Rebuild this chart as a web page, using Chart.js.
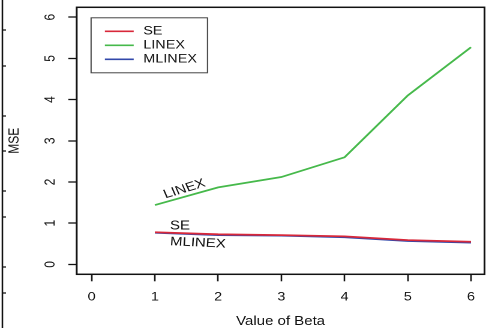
<!DOCTYPE html>
<html>
<head>
<meta charset="utf-8">
<script src="https://cdn.jsdelivr.net/npm/chart.js@4/dist/chart.umd.min.js"></script>
<style>
  html, body { margin: 0; padding: 0; background: #fff; overflow: hidden; }
  #wrap { width: 406px; height: 328px; transform: scaleX(1.2); transform-origin: 0 0; }
  canvas { display: block; }
</style>
</head>
<body>
<div id="wrap"><canvas id="mse" width="406" height="328"></canvas></div>
<script>
// Mean squared error of the three estimators against Beta
const betaValues = [1, 2, 3, 4, 5, 6];
const seMSE     = [0.78, 0.73, 0.71, 0.68, 0.59, 0.55];
const linexMSE  = [1.44, 1.87, 2.12, 2.60, 4.10, 5.27];
const mlinexMSE = [0.77, 0.71, 0.70, 0.66, 0.57, 0.53];
const seriesNames = ['SE', 'LINEX', 'MLINEX'];
const xTickValues = [0, 1, 2, 3, 4, 5, 6];
const yTickValues = [0, 1, 2, 3, 4, 5, 6];

const FONT = 'Liberation Sans, Arial, Helvetica, sans-serif';
const INK = '#111111';
const colors = ['#d8283a', '#46b94b', '#3248aa'];

const toPoints = ys => betaValues.map((b, i) => ({ x: b, y: ys[i] }));

// in-plot curve labels, placed in data units
const curveLabels = [
  { text: 'LINEX',  x: 1.468, y: 1.83, angle: -20 },
  { text: 'SE',     x: 1.397, y: 0.93, angle: 0 },
  { text: 'MLINEX', x: 1.68,  y: 0.52, angle: 3 }
];

const plotFrame = {
  id: 'plotFrame',
  afterDraw(chart) {
    const { ctx, chartArea: a } = chart;
    ctx.save();
    ctx.strokeStyle = INK;
    ctx.lineWidth = 1.5;
    ctx.strokeRect(a.left, a.top, a.right - a.left, a.bottom - a.top);
    // edge of the neighbouring panel
    ctx.lineWidth = 1.3;
    ctx.beginPath();
    ctx.moveTo(2, 0); ctx.lineTo(2, chart.height);
    [30, 66, 116, 151, 191, 217, 267, 293].forEach(t => { ctx.moveTo(2, t); ctx.lineTo(5, t); });
    ctx.stroke();
    ctx.restore();
  }
};

const boxLegend = {
  id: 'boxLegend',
  afterDraw(chart) {
    const { ctx, chartArea: a } = chart;
    const left = a.left + 12, top = a.top + 10.5, w = 97, h = 55;
    ctx.save();
    ctx.strokeStyle = '#444';
    ctx.lineWidth = 1;
    ctx.strokeRect(left, top, w, h);
    ctx.font = '12px ' + FONT;
    ctx.textBaseline = 'middle';
    ctx.fillStyle = INK;
    chart.data.datasets.forEach((ds, i) => {
      const y = top + 13.5 + i * 14;
      ctx.strokeStyle = ds.borderColor;
      ctx.lineWidth = 1.6;
      ctx.beginPath();
      ctx.moveTo(left + 11.5, y); ctx.lineTo(left + 35.5, y);
      ctx.stroke();
      ctx.fillText(ds.label, left + 43.5, y);
    });
    ctx.restore();
  }
};

const curveText = {
  id: 'curveText',
  afterDatasetsDraw(chart) {
    const { ctx, scales: { x, y } } = chart;
    ctx.save();
    ctx.font = '12.5px ' + FONT;
    ctx.fillStyle = INK;
    ctx.textAlign = 'center';
    ctx.textBaseline = 'middle';
    curveLabels.forEach(l => {
      ctx.save();
      ctx.translate(x.getPixelForValue(l.x), y.getPixelForValue(l.y));
      ctx.rotate(l.angle * Math.PI / 180);
      ctx.fillText(l.text, 0, 0);
      ctx.restore();
    });
    ctx.restore();
  }
};

new Chart(document.getElementById('mse'), {
  type: 'line',
  data: {
    datasets: [seMSE, linexMSE, mlinexMSE].map((ys, i) => ({
      label: seriesNames[i],
      data: toPoints(ys),
      borderColor: colors[i],
      backgroundColor: colors[i],
      borderWidth: 1.8,
      pointRadius: 0,
      tension: 0,
      fill: false
    }))
  },
  options: {
    responsive: false,
    animation: false,
    devicePixelRatio: 2,
    layout: { padding: { left: 0, right: 2.25, top: 7.3, bottom: 0 } },
    plugins: { legend: { display: false }, tooltip: { enabled: false } },
    scales: {
      x: {
        type: 'linear',
        min: -0.237,
        max: 6.214,
        afterBuildTicks: s => { s.ticks = xTickValues.map(v => ({ value: v })); },
        afterFit: s => { s.height = 53.7; s.paddingLeft = 0; s.paddingRight = 0; },
        border: { display: false },
        grid: { drawOnChartArea: false, drawTicks: true, tickLength: 7, tickColor: INK, tickWidth: 1.3, color: INK },
        ticks: { color: INK, padding: 8.5, font: { family: FONT, size: 12 }, maxRotation: 0 },
        title: { display: true, text: 'Value of Beta', color: INK, padding: 0,
                 font: { family: FONT, size: 12.5, lineHeight: 1 } }
      },
      y: {
        type: 'linear',
        min: -0.24,
        max: 6.24,
        afterBuildTicks: s => { s.ticks = yTickValues.map(v => ({ value: v })); },
        afterFit: s => { s.width = 63.9; s.paddingTop = 0; s.paddingBottom = 0; },
        border: { display: false },
        grid: { drawOnChartArea: false, drawTicks: true, tickLength: 7, tickColor: INK, tickWidth: 1.3, color: INK },
        ticks: { color: INK, padding: 11.2, crossAlign: 'center', minRotation: 90, maxRotation: 90,
                 font: { family: FONT, size: 12 } },
        title: { display: true, text: 'MSE', color: INK, padding: { top: 6, bottom: 0 },
                 font: { family: FONT, size: 12, lineHeight: 1 } }
      }
    }
  },
  plugins: [plotFrame, curveText, boxLegend]
});
</script>
</body>
</html>
